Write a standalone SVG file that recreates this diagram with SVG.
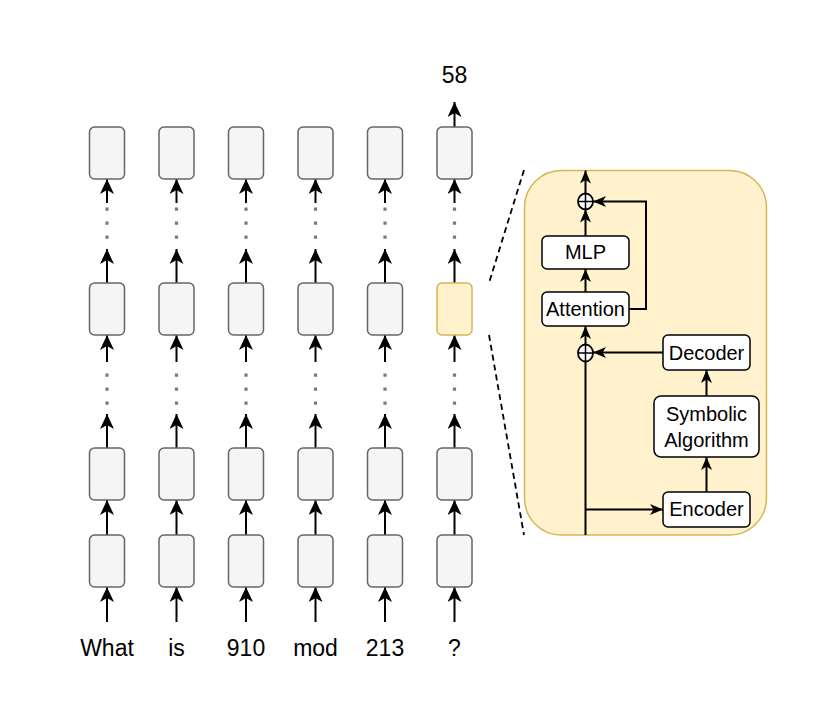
<svg xmlns="http://www.w3.org/2000/svg" width="826" height="726" viewBox="0 0 826 726">
<style>
.cell{fill:#f5f5f5;stroke:#666666;stroke-width:1.5}
.hl{fill:#fff2cc;stroke:#d6b656;stroke-width:1.5}
.wb{fill:#ffffff;stroke:#000000;stroke-width:1.5}
.ln{fill:none;stroke:#000000;stroke-width:2}
.dots{fill:none;stroke:#7a7a7a;stroke-width:3.2;stroke-dasharray:3.2 10.8}
.dash{fill:none;stroke:#000000;stroke-width:1.8;stroke-dasharray:6 4}
.big{marker-end:url(#ab)}
.sm{marker-end:url(#as)}
text{font-family:"Liberation Sans",Arial,Helvetica,sans-serif;fill:#000000;text-anchor:middle}
.t1{font-size:23px}
.t2{font-size:20px}
</style>
<defs>
<marker id="ab" viewBox="0 0 15 14" refX="15" refY="7" markerWidth="15" markerHeight="14" markerUnits="userSpaceOnUse" orient="auto">
<path d="M15,7 L0,0 L4,7 L0,14 Z" fill="#000000"/>
</marker>
<marker id="as" viewBox="0 0 13 11" refX="13" refY="5.5" markerWidth="13" markerHeight="11" markerUnits="userSpaceOnUse" orient="auto">
<path d="M13,5.5 L0,0 L3.5,5.5 L0,11 Z" fill="#000000"/>
</marker>
</defs>

<g id="connectors">
<path class="ln big" d="M107,622 V587"/><path class="ln big" d="M107,535 V500"/><path class="ln big" d="M107,448 V414"/><path class="ln big" d="M107,362 V335"/><path class="ln big" d="M107,283 V249"/><path class="ln big" d="M107,203 V179"/>
<path class="ln big" d="M176.5,622 V587"/><path class="ln big" d="M176.5,535 V500"/><path class="ln big" d="M176.5,448 V414"/><path class="ln big" d="M176.5,362 V335"/><path class="ln big" d="M176.5,283 V249"/><path class="ln big" d="M176.5,203 V179"/>
<path class="ln big" d="M246,622 V587"/><path class="ln big" d="M246,535 V500"/><path class="ln big" d="M246,448 V414"/><path class="ln big" d="M246,362 V335"/><path class="ln big" d="M246,283 V249"/><path class="ln big" d="M246,203 V179"/>
<path class="ln big" d="M315.5,622 V587"/><path class="ln big" d="M315.5,535 V500"/><path class="ln big" d="M315.5,448 V414"/><path class="ln big" d="M315.5,362 V335"/><path class="ln big" d="M315.5,283 V249"/><path class="ln big" d="M315.5,203 V179"/>
<path class="ln big" d="M385,622 V587"/><path class="ln big" d="M385,535 V500"/><path class="ln big" d="M385,448 V414"/><path class="ln big" d="M385,362 V335"/><path class="ln big" d="M385,283 V249"/><path class="ln big" d="M385,203 V179"/>
<path class="ln big" d="M454.5,622 V587"/><path class="ln big" d="M454.5,535 V500"/><path class="ln big" d="M454.5,448 V414"/><path class="ln big" d="M454.5,362 V335"/><path class="ln big" d="M454.5,283 V249"/><path class="ln big" d="M454.5,203 V179"/><path class="ln big" d="M454.5,127 V102"/>
<path class="dots" d="M107,207.5 V239 M176.5,207.5 V239 M246,207.5 V239 M315.5,207.5 V239 M385,207.5 V239 M454.5,207.5 V239"/>
<path class="dots" d="M107,373.5 V405 M176.5,373.5 V405 M246,373.5 V405 M315.5,373.5 V405 M385,373.5 V405 M454.5,373.5 V405"/>
<path class="dash" d="M524,170 L489,283"/>
<path class="dash" d="M489,335 L524,535"/>
</g>

<g id="panel">
<rect x="524.5" y="170.5" width="242" height="364.5" rx="37" ry="37" class="hl"/>
</g>

<g id="panel-connectors">
<path class="ln" d="M585.5,535 V362"/>
<path class="ln sm" d="M585.5,344.5 V326"/>
<path class="ln sm" d="M585.5,292 V269"/>
<path class="ln sm" d="M585.5,236 V209.5"/>
<path class="ln sm" d="M585.5,193.5 V170.5"/>
<path class="ln sm" d="M629,309 H646 V201.5 H593"/>
<path class="ln sm" d="M663,352.5 H593"/>
<path class="ln sm" d="M706.5,396 V370"/>
<path class="ln sm" d="M706.5,492 V457"/>
<path class="ln sm" d="M585.5,509.5 H663"/>
</g>

<g id="cells">
<g id="c1r1"><rect x="89.5" y="127" width="35" height="52" rx="5" class="cell"/></g>
<g id="c2r1"><rect x="159" y="127" width="35" height="52" rx="5" class="cell"/></g>
<g id="c3r1"><rect x="228.5" y="127" width="35" height="52" rx="5" class="cell"/></g>
<g id="c4r1"><rect x="298" y="127" width="35" height="52" rx="5" class="cell"/></g>
<g id="c5r1"><rect x="367.5" y="127" width="35" height="52" rx="5" class="cell"/></g>
<g id="c6r1"><rect x="437" y="127" width="35" height="52" rx="5" class="cell"/></g>

<g id="c1r2"><rect x="89.5" y="283" width="35" height="52" rx="5" class="cell"/></g>
<g id="c2r2"><rect x="159" y="283" width="35" height="52" rx="5" class="cell"/></g>
<g id="c3r2"><rect x="228.5" y="283" width="35" height="52" rx="5" class="cell"/></g>
<g id="c4r2"><rect x="298" y="283" width="35" height="52" rx="5" class="cell"/></g>
<g id="c5r2"><rect x="367.5" y="283" width="35" height="52" rx="5" class="cell"/></g>
<g id="c6r2"><rect x="437" y="283" width="35" height="52" rx="5" class="hl"/></g>

<g id="c1r3"><rect x="89.5" y="448" width="35" height="52" rx="5" class="cell"/></g>
<g id="c2r3"><rect x="159" y="448" width="35" height="52" rx="5" class="cell"/></g>
<g id="c3r3"><rect x="228.5" y="448" width="35" height="52" rx="5" class="cell"/></g>
<g id="c4r3"><rect x="298" y="448" width="35" height="52" rx="5" class="cell"/></g>
<g id="c5r3"><rect x="367.5" y="448" width="35" height="52" rx="5" class="cell"/></g>
<g id="c6r3"><rect x="437" y="448" width="35" height="52" rx="5" class="cell"/></g>

<g id="c1r4"><rect x="89.5" y="535" width="35" height="52" rx="5" class="cell"/></g>
<g id="c2r4"><rect x="159" y="535" width="35" height="52" rx="5" class="cell"/></g>
<g id="c3r4"><rect x="228.5" y="535" width="35" height="52" rx="5" class="cell"/></g>
<g id="c4r4"><rect x="298" y="535" width="35" height="52" rx="5" class="cell"/></g>
<g id="c5r4"><rect x="367.5" y="535" width="35" height="52" rx="5" class="cell"/></g>
<g id="c6r4"><rect x="437" y="535" width="35" height="52" rx="5" class="cell"/></g>
</g>

<g id="labels">
<text class="t1" x="107" y="656">What</text>
<text class="t1" x="176.5" y="656">is</text>
<text class="t1" x="246" y="656">910</text>
<text class="t1" x="315.5" y="656">mod</text>
<text class="t1" x="385" y="656">213</text>
<text class="t1" x="454.5" y="656">?</text>
<text class="t1" x="454.5" y="83">58</text>
</g>

<g id="sum-top">
<ellipse cx="585.5" cy="201.5" rx="7.5" ry="8" fill="#ffffff" stroke="#000000" stroke-width="1.8"/>
<path d="M578,201.5 H593 M585.5,193.5 V209.5" stroke="#000000" stroke-width="1.5"/>
</g>
<g id="sum-bottom">
<ellipse cx="585.5" cy="353" rx="7.5" ry="8.5" fill="#ffffff" stroke="#000000" stroke-width="1.8"/>
<path d="M578,353 H593 M585.5,344.5 V361.5" stroke="#000000" stroke-width="1.5"/>
</g>
<g id="mlp">
<rect x="542" y="236" width="87" height="33" rx="5" class="wb"/>
<text class="t2" x="585.5" y="259">MLP</text>
</g>
<g id="attention">
<rect x="542" y="292" width="87" height="34" rx="5" class="wb"/>
<text class="t2" x="585.5" y="316">Attention</text>
</g>
<g id="decoder">
<rect x="663" y="335" width="87" height="35" rx="5" class="wb"/>
<text class="t2" x="706.5" y="359.5">Decoder</text>
</g>
<g id="symbolic">
<rect x="654" y="396" width="105" height="61" rx="7" class="wb"/>
<text class="t2" x="706.5" y="421">Symbolic</text>
<text class="t2" x="706.5" y="447">Algorithm</text>
</g>
<g id="encoder">
<rect x="663" y="492" width="87" height="35" rx="5" class="wb"/>
<text class="t2" x="706.5" y="516">Encoder</text>
</g>
</svg>
